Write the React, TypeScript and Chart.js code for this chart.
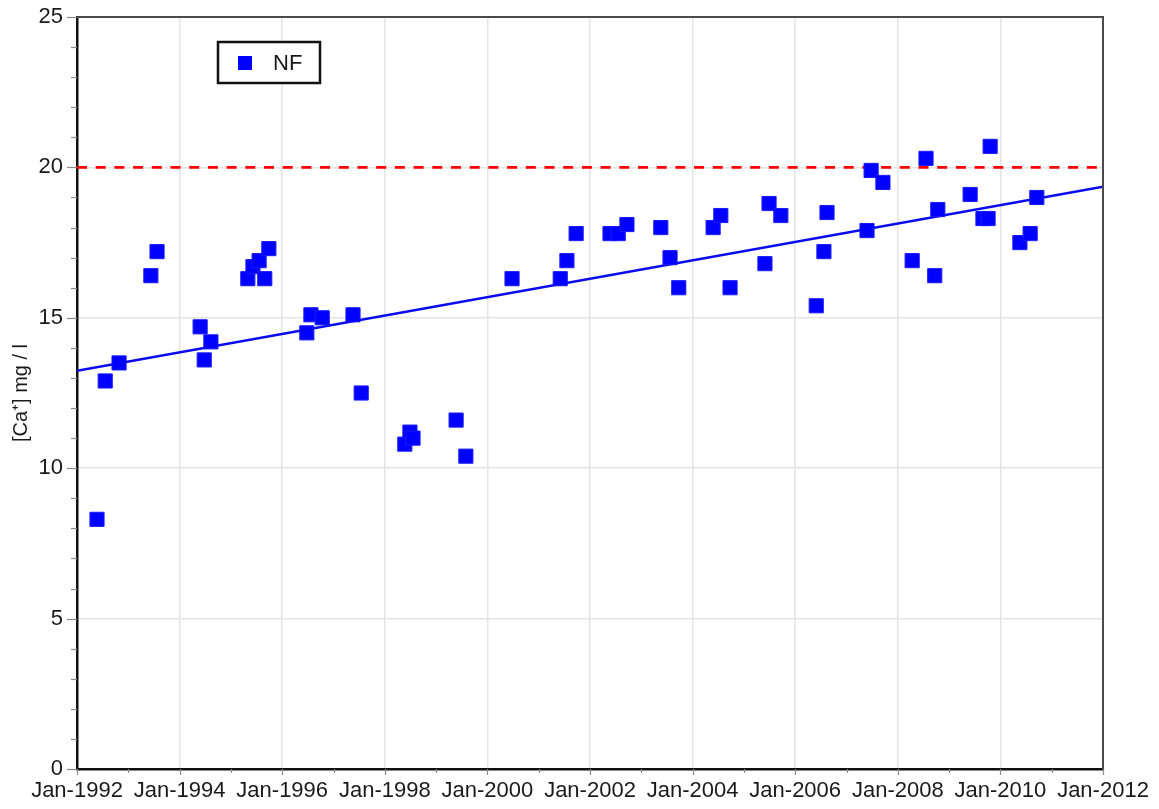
import React, { useEffect, useRef } from "react";
import { Chart, registerables } from "chart.js";

Chart.register(...registerables);

// ---- data (decimal years, mg/l) ----
const sampleDates: number[] = [
  1992.39, 1992.55, 1992.82, 1993.44, 1993.56, 1994.40, 1994.48, 1994.61,
  1995.33, 1995.43, 1995.55, 1995.66, 1995.74, 1996.48, 1996.56, 1996.78,
  1997.38, 1997.54, 1998.39, 1998.49, 1998.55, 1999.39, 1999.58, 2000.48,
  2001.42, 2001.55, 2001.73, 2002.39, 2002.55, 2002.72, 2003.38, 2003.56,
  2003.73, 2004.40, 2004.55, 2004.73, 2005.41, 2005.49, 2005.72, 2006.41,
  2006.56, 2006.62, 2007.40, 2007.48, 2007.71, 2008.28, 2008.55, 2008.72,
  2008.78, 2009.41, 2009.66, 2009.76, 2009.80, 2010.38, 2010.58, 2010.71,
];
const caValues: number[] = [
  8.3, 12.9, 13.5, 16.4, 17.2, 14.7, 13.6, 14.2,
  16.3, 16.7, 16.9, 16.3, 17.3, 14.5, 15.1, 15.0,
  15.1, 12.5, 10.8, 11.2, 11.0, 11.6, 10.4, 16.3,
  16.3, 16.9, 17.8, 17.8, 17.8, 18.1, 18.0, 17.0,
  16.0, 18.0, 18.4, 16.0, 16.8, 18.8, 18.4, 15.4,
  17.2, 18.5, 17.9, 19.9, 19.5, 16.9, 20.3, 16.4,
  18.6, 19.1, 18.3, 18.3, 20.7, 17.5, 17.8, 19.0,
];
const trendDates: number[] = [1992, 2012];
const trendValues: number[] = [13.24, 19.36];
const limitDates: number[] = [1992, 2012];
const limitValues: number[] = [20, 20];
const seriesLabel = "NF";
const yTitle = "[Ca\u207A] mg / l";

const FONT = "'Liberation Sans', Arial, Helvetica, sans-serif";

const decorPlugin = {
  id: "decor",
  afterDraw(chart: any) {
    const { ctx, chartArea: ca, scales } = chart;
    const xs = scales.x;
    const ys = scales.y;
    ctx.save();
    // tick marks
    ctx.strokeStyle = "#8a8a8a";
    ctx.lineWidth = 1.2;
    for (let v = 0; v <= 25; v++) {
      const py = Math.round(ys.getPixelForValue(v)) + 0.5;
      const len = v % 5 === 0 ? 10 : 6;
      ctx.beginPath();
      ctx.moveTo(ca.left - len, py);
      ctx.lineTo(ca.left, py);
      ctx.stroke();
    }
    for (let yr = 1992; yr <= 2012; yr++) {
      const px = Math.round(xs.getPixelForValue(yr)) + 0.5;
      const len = yr % 2 === 0 ? 6 : 4;
      ctx.beginPath();
      ctx.moveTo(px, ca.bottom);
      ctx.lineTo(px, ca.bottom + len);
      ctx.stroke();
    }
    // top & right frame
    ctx.strokeStyle = "#4a4a4a";
    ctx.lineWidth = 2;
    ctx.beginPath();
    ctx.moveTo(ca.left, ca.top);
    ctx.lineTo(ca.right, ca.top);
    ctx.lineTo(ca.right, ca.bottom);
    ctx.stroke();
    // legend box
    const ds = chart.data.datasets[0];
    const bx = ca.left + 141;
    const by = ca.top + 25;
    const bw = 102;
    const bh = 41;
    ctx.fillStyle = "#ffffff";
    ctx.fillRect(bx, by, bw, bh);
    ctx.strokeStyle = "#111";
    ctx.lineWidth = 2.5;
    ctx.strokeRect(bx, by, bw, bh);
    ctx.fillStyle = ds.backgroundColor;
    ctx.fillRect(bx + 20, by + 14, 14, 14);
    ctx.fillStyle = "#1a1a1a";
    ctx.font = `22px ${FONT}`;
    ctx.textBaseline = "middle";
    ctx.textAlign = "left";
    ctx.fillText(ds.label, bx + 55, by + bh / 2 + 1);
    ctx.restore();
  },
};

export default function App() {
  const ref = useRef<HTMLCanvasElement | null>(null);

  useEffect(() => {
    if (!ref.current) return;
    const points = sampleDates.map((d, i) => ({ x: d, y: caValues[i] }));
    const trend = trendDates.map((d, i) => ({ x: d, y: trendValues[i] }));
    const limit = limitDates.map((d, i) => ({ x: d, y: limitValues[i] }));

    const chart = new Chart(ref.current, {
      type: "scatter",
      data: {
        datasets: [
          {
            label: seriesLabel,
            data: points,
            backgroundColor: "#0000ff",
            borderColor: "#1a1aff",
            borderWidth: 1,
            pointStyle: "rect",
            pointRadius: 10,
            order: 0,
          },
          {
            label: "trend",
            data: trend,
            showLine: true,
            borderColor: "#0a0af0",
            borderWidth: 2.5,
            pointRadius: 0,
            order: 1,
          },
          {
            label: "limit",
            data: limit,
            showLine: true,
            borderColor: "#ff0000",
            borderWidth: 2.7,
            borderDash: [10, 8.7],
            pointRadius: 0,
            order: 2,
          },
        ],
      } as any,
      options: {
        animation: false,
        responsive: false,
        layout: { padding: { top: 17, right: 56, left: 0, bottom: 0 } },
        plugins: {
          legend: { display: false },
          tooltip: { enabled: false },
        },
        scales: {
          x: {
            type: "linear",
            min: 1992,
            max: 2012,
            afterFit: (s: any) => {
              s.height = 40;
              s.paddingLeft = 0;
              s.paddingRight = 0;
            },
            ticks: {
              stepSize: 2,
              padding: 9,
              maxRotation: 0,
              autoSkip: false,
              color: "#1a1a1a",
              font: { family: FONT, size: 22 },
              callback: (v: any) => "Jan-" + v,
            },
            grid: {
              drawTicks: false,
              lineWidth: 1.5,
              color: (c: any) =>
                c.tick && (c.tick.value === 1992 || c.tick.value === 2012)
                  ? "rgba(0,0,0,0)"
                  : "#e4e4e4",
            },
            border: { color: "#111", width: 2.5 },
          },
          y: {
            type: "linear",
            min: 0,
            max: 25,
            afterFit: (s: any) => {
              s.width = 77;
              s.paddingTop = 0;
              s.paddingBottom = 0;
            },
            ticks: {
              stepSize: 5,
              padding: 14,
              color: "#1a1a1a",
              font: { family: FONT, size: 22 },
            },
            grid: {
              drawTicks: false,
              lineWidth: 1.5,
              color: (c: any) =>
                c.tick && (c.tick.value === 0 || c.tick.value === 25)
                  ? "rgba(0,0,0,0)"
                  : "#e4e4e4",
            },
            border: { color: "#111", width: 2.5 },
            title: {
              display: true,
              text: yTitle,
              color: "#1a1a1a",
              font: { family: FONT, size: 20 },
              padding: { top: 9, bottom: 0 },
            },
          },
        },
      } as any,
      plugins: [decorPlugin],
    });
    return () => chart.destroy();
  }, []);

  return (
    <div style={{ position: "absolute", left: 0, top: 0, width: 1159, height: 809, background: "#fff" }}>
      <canvas ref={ref} width={1159} height={809} style={{ display: "block" }} />
    </div>
  );
}
